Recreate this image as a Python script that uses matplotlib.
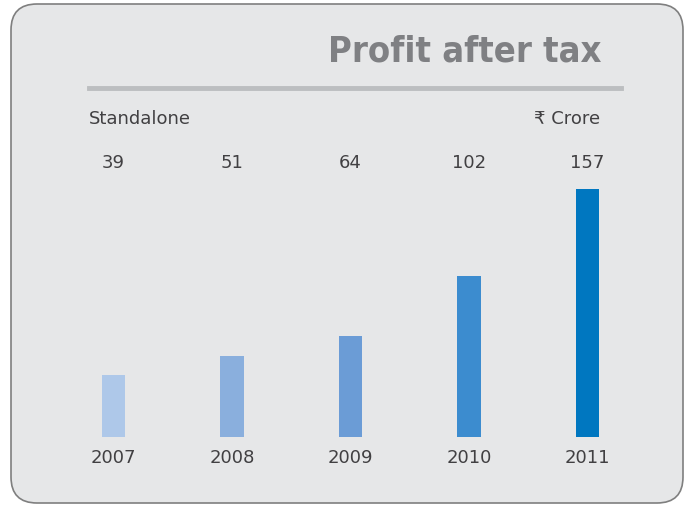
import matplotlib.pyplot as plt
from matplotlib.patches import FancyBboxPatch
from matplotlib.lines import Line2D
from matplotlib import transforms

years = ['2007', '2008', '2009', '2010', '2011']
profit = [39, 51, 64, 102, 157]
bar_colors = ['#aec8e9', '#8aafdd', '#6b9cd6', '#3c8ccf', '#0077c0']

W, H = 684, 506
fig = plt.figure(figsize=(W / 100, H / 100), dpi=100)
fig.patch.set_facecolor('white')

def fx(px):
    return px / W

def fy(py):
    # py measured from top
    return 1 - py / H

# card background
card = FancyBboxPatch((fx(11), fy(504)), fx(672), 499 / H,
                      boxstyle='round,pad=0,rounding_size=0.038',
                      transform=fig.transFigure, facecolor='#e6e7e8',
                      edgecolor='#7f7f7f', linewidth=1.2, mutation_aspect=W / H,
                      zorder=-5)
fig.patches.append(card)

txt_color = '#414042'
font = ['DejaVu Sans']

fig.text(fx(602), fy(52), 'Profit after tax', ha='right', va='center',
         fontsize=26, fontweight='bold', color='#7f8083',
         family=['DejaVu Sans'], fontstretch='condensed')
fig.lines.append(Line2D([fx(89), fx(621)], [fy(89), fy(89)], transform=fig.transFigure,
                        color='#bcbec0', linewidth=3.5))
fig.text(fx(89), fy(119), 'Standalone', ha='left', va='center', fontsize=13,
         color=txt_color, family=font)
fig.text(fx(600), fy(119), '\u20b9 Crore', ha='right', va='center', fontsize=13,
         color=txt_color, family=font)

# bar axes
ax = fig.add_axes([fx(54.25), fy(438), fx(592.5), 248 / H])
ax.set_zorder(2)
ax.set_xlim(-0.5, 4.5)
ax.set_ylim(0, 157)
ax.bar(range(len(years)), profit, width=0.195, color=bar_colors)
ax.axis('off')

trans = transforms.blended_transform_factory(ax.transData, fig.transFigure)
for i, (yr, v) in enumerate(zip(years, profit)):
    ax.text(i, fy(163), str(v), transform=trans, ha='center', va='center',
            fontsize=13, color=txt_color, family=font)
    ax.text(i, fy(458), yr, transform=trans, ha='center', va='center',
            fontsize=13, color=txt_color, family=font)

fig.savefig('out.png', dpi=100, facecolor='white')
